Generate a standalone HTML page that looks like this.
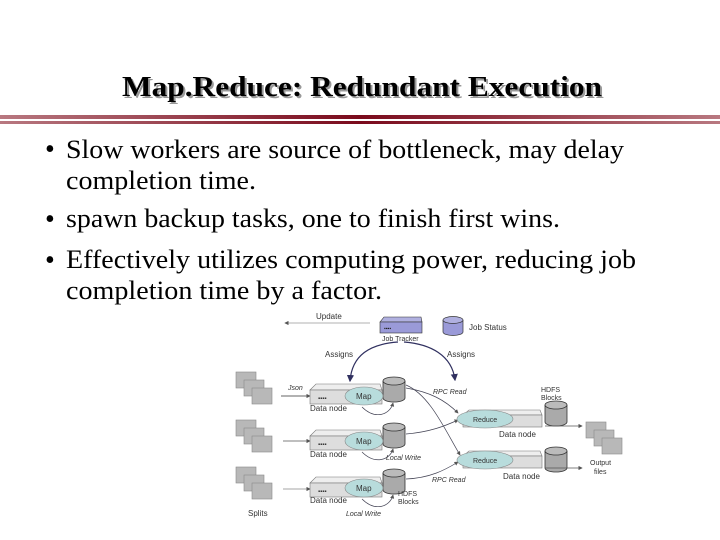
<!DOCTYPE html>
<html><head><meta charset="utf-8"><style>
html,body{margin:0;padding:0;background:#fff;}
svg{display:block;}
</style></head><body>
<svg width="720" height="540" viewBox="0 0 720 540" xmlns="http://www.w3.org/2000/svg">
<defs>
<linearGradient id="bar" x1="0" x2="1" y1="0" y2="0">
<stop offset="0" stop-color="#b87880"/><stop offset="0.5" stop-color="#7a0a1c"/><stop offset="1" stop-color="#b87880"/>
</linearGradient>
<marker id="ah" markerWidth="6" markerHeight="6" refX="5" refY="3" orient="auto"><path d="M0,0 L6,3 L0,6 z" fill="#555"/></marker>
<marker id="ahb" markerWidth="6" markerHeight="6" refX="5" refY="3" orient="auto"><path d="M0,0 L6,3 L0,6 z" fill="#303060"/></marker>
<g id="split"><rect x="0" y="0" width="20" height="16" fill="#b8b8b8" stroke="#888" stroke-width="0.6"/><rect x="8" y="8" width="20" height="16" fill="#b8b8b8" stroke="#888" stroke-width="0.6"/><rect x="16" y="16" width="20" height="16" fill="#b8b8b8" stroke="#888" stroke-width="0.6"/></g>
<g id="cyl"><path d="M0,4 v17 a11,4 0 0 0 22,0 v-17" fill="#aaa" stroke="#333" stroke-width="0.8"/><ellipse cx="11" cy="4" rx="11" ry="4" fill="#bbb" stroke="#333" stroke-width="0.8"/></g>
<g id="dn"><path d="M0,6 L6,0 L70,0 L72,6 Z" fill="#eee" stroke="#777" stroke-width="0.6"/><rect x="0" y="6" width="72" height="14" fill="#ddd" stroke="#777" stroke-width="0.6"/><text x="8" y="16" font-size="6" fill="#333" font-family="Liberation Sans,sans-serif">▪▪▪▪</text></g>
</defs>
<text x="124" y="98" textLength="480" lengthAdjust="spacingAndGlyphs" font-family="Liberation Serif,serif" font-weight="bold" font-size="29" fill="#999">Map.Reduce: Redundant Execution</text>
<text x="122" y="96" textLength="480" lengthAdjust="spacingAndGlyphs" font-family="Liberation Serif,serif" font-weight="bold" font-size="29" fill="#000">Map.Reduce: Redundant Execution</text>
<rect x="0" y="115" width="720" height="4" fill="url(#bar)"/>
<rect x="0" y="121" width="720" height="3" fill="url(#bar)"/>
<g font-family="Liberation Serif,serif" font-size="26" fill="#000">
<text x="45" y="158" font-size="28">•</text><text x="66" y="158" textLength="558" lengthAdjust="spacingAndGlyphs">Slow workers are source of bottleneck, may delay</text>
<text x="66" y="189" textLength="190" lengthAdjust="spacingAndGlyphs">completion time.</text>
<text x="45" y="228" font-size="28">•</text><text x="66" y="227" textLength="494" lengthAdjust="spacingAndGlyphs">spawn backup tasks, one to finish first wins.</text>
<text x="45" y="269" font-size="28">•</text><text x="66" y="268" textLength="570" lengthAdjust="spacingAndGlyphs">Effectively utilizes computing power, reducing job</text>
<text x="66" y="299" textLength="316" lengthAdjust="spacingAndGlyphs">completion time by a factor.</text>
</g>
<g font-family="Liberation Sans,sans-serif" font-size="8" fill="#333">
<line x1="370" y1="323" x2="285" y2="323" stroke="#999" stroke-width="0.7" marker-end="url(#ah)"/>
<text x="316" y="319">Update</text>
<path d="M380,322 L384,317 L421,317 L422,322 Z" fill="#b0b0e0" stroke="#333" stroke-width="0.6"/>
<rect x="380" y="322" width="42" height="11" fill="#9a9ad8" stroke="#333" stroke-width="0.6"/>
<text x="384" y="330" font-size="5" fill="#222">▪▪▪▪</text>
<text x="382" y="341" font-size="7">Job Tracker</text>
<path d="M443,320 v12 a10,3.5 0 0 0 20,0 v-12" fill="#9a9ad8" stroke="#333" stroke-width="0.7"/><ellipse cx="453" cy="320" rx="10" ry="3.5" fill="#b0b0e0" stroke="#333" stroke-width="0.7"/>
<text x="469" y="330">Job Status</text>
<text x="325" y="357">Assigns</text><text x="447" y="357">Assigns</text>
<path d="M398,342 C370,344 352,355 350,381" fill="none" stroke="#303060" stroke-width="1.2" marker-end="url(#ahb)"/>
<path d="M404,342 C430,344 452,355 455,380" fill="none" stroke="#303060" stroke-width="1.2" marker-end="url(#ahb)"/>
<use href="#split" x="236" y="372"/><use href="#split" x="236" y="420"/><use href="#split" x="236" y="467"/>
<text x="248" y="516">Splits</text>
<line x1="281" y1="396" x2="310" y2="396" stroke="#333" stroke-width="0.7" marker-end="url(#ah)"/>
<text x="288" y="390" font-style="italic" font-size="7">Json</text>
<line x1="283" y1="441" x2="310" y2="441" stroke="#555" stroke-width="0.7" marker-end="url(#ah)"/>
<line x1="283" y1="489" x2="310" y2="489" stroke="#888" stroke-width="0.7" marker-end="url(#ah)"/>
<use href="#dn" x="310" y="384"/><use href="#dn" x="310" y="430"/><use href="#dn" x="310" y="477"/>
<text x="310" y="411">Data node</text><text x="310" y="457">Data node</text><text x="310" y="503">Data node</text>
<use href="#cyl" x="383" y="377"/><use href="#cyl" x="383" y="423"/><use href="#cyl" x="383" y="469"/>
<ellipse cx="364" cy="396" rx="19" ry="9" fill="#b8dcdc" stroke="#888" stroke-width="0.6"/><text x="356" y="399">Map</text>
<ellipse cx="364" cy="441" rx="19" ry="9" fill="#b8dcdc" stroke="#888" stroke-width="0.6"/><text x="356" y="444">Map</text>
<ellipse cx="364" cy="488" rx="19" ry="9" fill="#b8dcdc" stroke="#888" stroke-width="0.6"/><text x="356" y="491">Map</text>
<g fill="none" stroke="#445" stroke-width="0.7">
<path d="M362,407 C375,420 390,415 393,403" marker-end="url(#ah)"/>
<path d="M362,452 C375,465 390,460 393,449" marker-end="url(#ah)"/>
<path d="M362,499 C375,512 390,507 393,495" marker-end="url(#ah)"/>
<path d="M406,388 C430,392 445,400 458,413" marker-end="url(#ah)"/>
<path d="M406,385 C430,395 445,430 460,455" marker-end="url(#ah)"/>
<path d="M406,434 C430,432 445,426 458,420" marker-end="url(#ah)"/>
<path d="M406,479 C430,478 445,470 458,462" marker-end="url(#ah)"/>
</g>
<text x="433" y="394" font-style="italic" font-size="7">RPC Read</text>
<text x="386" y="460" font-style="italic" font-size="7">Local Write</text>
<text x="432" y="482" font-style="italic" font-size="7">RPC Read</text>
<text x="346" y="516" font-style="italic" font-size="7">Local Write</text>
<text x="398" y="496" font-size="7">HDFS</text><text x="398" y="504" font-size="7">Blocks</text>
<path d="M463,415 L469,410 L540,410 L542,415 Z" fill="#eee" stroke="#777" stroke-width="0.6"/><rect x="463" y="415" width="79" height="12" fill="#ddd" stroke="#777" stroke-width="0.6"/>
<path d="M463,456 L469,451 L540,451 L542,456 Z" fill="#eee" stroke="#777" stroke-width="0.6"/><rect x="463" y="456" width="79" height="12" fill="#ddd" stroke="#777" stroke-width="0.6"/>
<ellipse cx="485" cy="419" rx="28" ry="9" fill="#b8dcdc" stroke="#888" stroke-width="0.6"/><text x="473" y="422" font-size="7">Reduce</text>
<ellipse cx="485" cy="460" rx="28" ry="9" fill="#b8dcdc" stroke="#888" stroke-width="0.6"/><text x="473" y="463" font-size="7">Reduce</text>
<text x="499" y="437">Data node</text><text x="503" y="479">Data node</text>
<use href="#cyl" x="545" y="401"/><use href="#cyl" x="545" y="447"/>
<text x="541" y="392" font-size="7">HDFS</text><text x="541" y="400" font-size="7">Blocks</text>
<line x1="545" y1="426" x2="582" y2="426" stroke="#555" stroke-width="0.7" marker-end="url(#ah)"/>
<line x1="545" y1="468" x2="582" y2="468" stroke="#555" stroke-width="0.7" marker-end="url(#ah)"/>
<use href="#split" x="586" y="422"/>
<text x="590" y="465" font-size="7">Output</text><text x="594" y="474" font-size="7">files</text>
</g>
</svg>
</body></html>
